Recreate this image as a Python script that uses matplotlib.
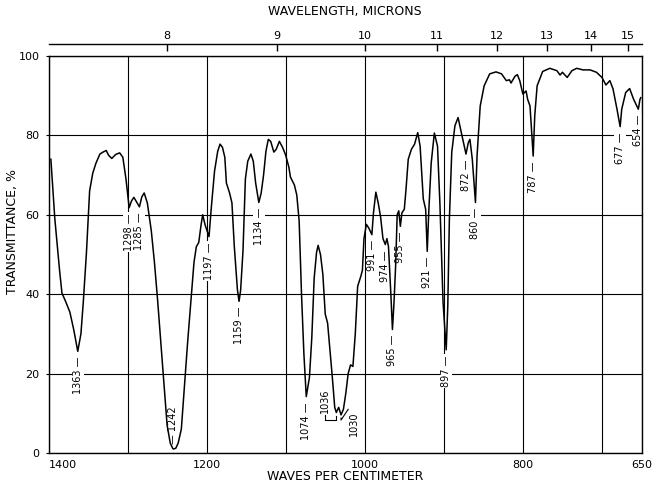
import numpy as np
import matplotlib
matplotlib.use("Agg")
import matplotlib.pyplot as plt

# infrared trace: wavenumber (cm-1) against transmittance (%)
wavenumber = [
    1397, 1392, 1386, 1383, 1378, 1373, 1368, 1363, 1359, 1356, 1352, 1348,
    1344, 1340, 1335, 1331, 1327, 1324, 1320, 1315, 1310, 1306, 1302, 1298,
    1295, 1292, 1288, 1285, 1282, 1279, 1275, 1270, 1266, 1262, 1258, 1255,
    1250, 1246, 1243, 1242, 1239, 1236, 1232, 1228, 1224, 1220, 1216, 1213,
    1210, 1207, 1205, 1202, 1197, 1194, 1190, 1186, 1183, 1180, 1177, 1175,
    1171, 1168, 1165, 1161, 1159, 1157, 1154, 1151, 1148, 1144, 1141, 1138,
    1134, 1131, 1128, 1125, 1122, 1119, 1115, 1112, 1108, 1104, 1100, 1096,
    1094, 1089, 1086, 1083, 1080, 1077, 1074, 1070, 1067, 1064, 1061, 1059,
    1056, 1053, 1050, 1047, 1044, 1041, 1038, 1036, 1033, 1030, 1027, 1024,
    1021, 1018, 1015, 1012, 1009, 1005, 1003, 1001, 998, 995, 991, 989,
    986, 983, 980, 977, 974, 972, 970, 967, 965, 963, 961, 959,
    957, 955, 953, 950, 948, 945, 941, 937, 933, 930, 926, 923,
    921, 919, 916, 912, 908, 905, 901, 897, 895, 893, 890, 886,
    882, 877, 872, 869, 867, 864, 860, 858, 854, 849, 842, 834,
    827, 821, 817, 815, 810, 807, 804, 800, 796, 794, 791, 787,
    785, 782, 775, 766, 757, 753, 750, 744, 738, 732, 724, 715,
    707, 700, 695, 690, 686, 681, 677, 675, 670, 665, 660, 654,
    652, 651,
]
transmittance = [
    74.0, 59.0, 46.0, 40.3, 38.0, 35.5, 31.0, 25.6, 30.0, 38.0, 50.5, 66.0,
    70.5, 73.0, 75.3, 75.8, 76.2, 75.0, 74.2, 75.2, 75.6, 74.5, 69.0, 61.8,
    63.5, 64.4, 63.0, 62.0, 64.5, 65.5, 63.0, 56.0, 48.0, 38.5, 28.0, 20.1,
    7.0, 2.5, 1.2, 1.0, 1.2, 2.5, 6.0, 17.0, 28.0, 38.0, 48.0, 52.0,
    53.0, 57.5, 60.0, 57.5, 54.5, 62.0, 71.0, 76.0, 77.8, 77.0, 74.5, 68.0,
    65.5, 63.0, 52.0, 41.0, 38.2, 41.0, 51.0, 69.0, 73.5, 75.3, 73.5, 68.0,
    63.1, 65.5, 70.0, 76.0, 79.0, 78.5, 75.8, 76.5, 78.5, 77.0, 75.0, 72.0,
    69.5, 67.5, 65.0, 58.5, 40.0, 25.0, 14.2, 19.0, 29.0, 44.0, 50.5, 52.3,
    50.0, 45.0, 35.0, 32.7, 26.0, 19.0, 11.5, 10.2, 11.5, 9.6, 11.0, 15.0,
    20.0, 22.2, 21.8, 30.0, 42.0, 44.5, 46.0, 54.0, 57.6, 56.7, 55.0, 60.5,
    65.7, 63.0, 59.5, 54.0, 52.5, 54.0, 52.0, 40.0, 31.1, 38.0, 47.0, 60.0,
    61.0, 57.1, 60.5, 61.4, 66.0, 74.0, 76.5, 77.8, 80.7, 77.3, 64.0, 61.4,
    50.8, 61.0, 73.0, 80.6, 77.3, 63.0, 38.0, 26.0, 37.0, 58.8, 75.7, 82.4,
    84.5, 79.9, 75.3, 78.2, 79.0, 74.0, 63.1, 74.8, 87.4, 92.5, 95.5, 96.0,
    95.5, 93.8, 94.0, 93.2, 94.9, 95.3, 93.8, 90.4, 91.2, 89.1, 87.4, 74.8,
    85.0, 92.5, 96.1, 96.9, 96.3, 95.2, 95.9, 94.6, 96.3, 96.9, 96.5, 96.5,
    95.9, 94.6, 92.7, 93.8, 91.7, 86.6, 82.2, 86.6, 90.8, 91.8, 89.1, 86.6,
    89.0, 89.5,
]

# band assignments written under the absorption minima
bands = [1363, 1298, 1285, 1197, 1159, 1134, 1074, 991, 974, 965, 955,
         921, 897, 872, 860, 787, 677, 654]
band_deep = 1242
band_pair = [1036, 1030]

x_labels = [1400, 1200, 1000, 800, 650]
x_grid = [1300, 1100, 900, 700]
y_ticks = [0, 20, 40, 60, 80, 100]
microns = [8, 9, 10, 11, 12, 13, 14, 15]

W, H = 652, 487
fig = plt.figure(figsize=(W / 100, H / 100), dpi=100)
ax = fig.add_axes([48.5 / W, 1 - 453 / H, 593 / W, 397 / H])

ax.plot(wavenumber, transmittance, color="black", lw=1.1, zorder=4)
ax.set_xlim(1400, 650)
ax.set_ylim(0, 100)

ax.set_xticks(x_labels)
ax.set_xticklabels([str(v) for v in x_labels])
ax.set_xticks(x_grid, minor=True)
ax.set_yticks(y_ticks)
ax.grid(which="both", color="black", lw=0.8, zorder=1)
ax.tick_params(axis="x", which="both", length=0, pad=5, labelsize=8)
ax.tick_params(axis="y", length=2.5, pad=4, labelsize=8)
ax.get_xticklabels()[0].set_horizontalalignment("left")
for s in ax.spines.values():
    s.set_linewidth(1.0)


def wn_to_um(x):
    x = np.asarray(x, dtype=float)
    with np.errstate(divide="ignore"):
        return 1e4 / x


top = ax.secondary_xaxis(1.03, functions=(wn_to_um, wn_to_um))
top.set_xticks(microns)
top.set_xticklabels([str(v) for v in microns])
top.tick_params(direction="in", length=5, width=1, pad=2, labelsize=8)
for s in top.spines.values():
    s.set_linewidth(1.0)


def t_at(w):
    return np.interp(w, wavenumber[::-1], transmittance[::-1])


# white boxes cut the grid behind the numbers, spines stay on top
lbl = dict(rotation=90, ha="center", fontsize=7, zorder=2,
           bbox=dict(fc="white", ec="none", pad=0.6))
for w in bands:
    ax.text(w, t_at(w) - 1.4, f"{w} \u2014", va="top", **lbl)
ax.text(band_deep, t_at(band_deep) + 1.2, f"\u2014 {band_deep}", va="bottom", **lbl)

# bracketed pair at the bottom of the broad band
w1, w2 = band_pair
ax.plot([w1, w1, w1 + 14, w1 + 14], [t_at(w1) - 0.8, 8.3, 8.3, 9.5],
        color="black", lw=0.8, zorder=4)
ax.text(w1 + 14, 10.0, f"{w1}", va="bottom", **lbl)
ax.plot([w2, w2, w2 - 9], [t_at(w2) - 0.8, 8.3, 11.0],
        color="black", lw=0.8, zorder=4)
ax.text(w2 - 16, 10.5, f"{w2}", va="top", **lbl)

fig.text(345 / W, 1 - 12 / H, "WAVELENGTH, MICRONS", ha="center", va="center",
         fontsize=9)
fig.text(345 / W, 1 - 477 / H, "WAVES PER CENTIMETER", ha="center",
         va="center", fontsize=9)
fig.text(13 / W, 1 - 232 / H, "TRANSMITTANCE, %", ha="center", va="center",
         rotation=90, fontsize=9)

fig.savefig("out.png", dpi=100, facecolor="white")
